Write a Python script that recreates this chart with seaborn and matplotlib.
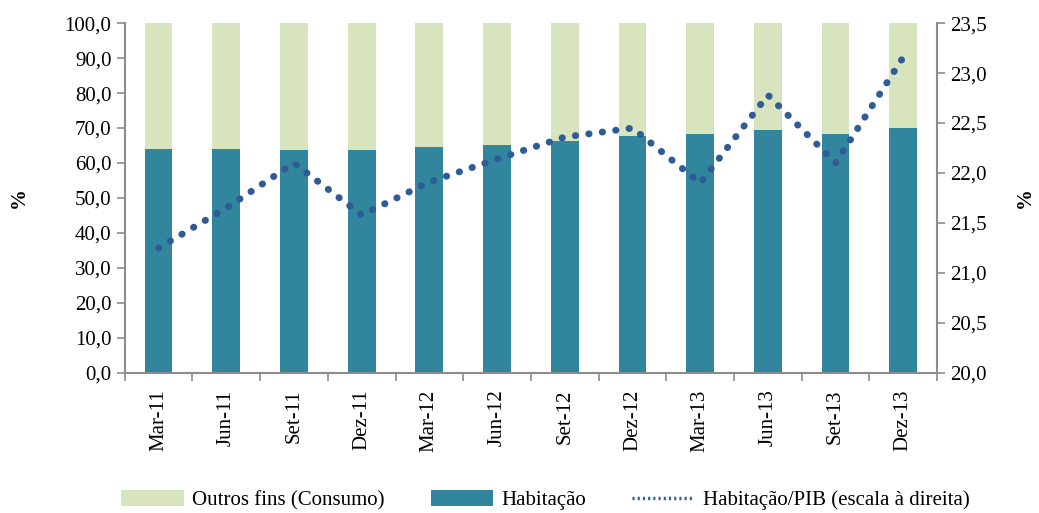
import numpy as np
import pandas as pd
import matplotlib
matplotlib.use("Agg")
import matplotlib.pyplot as plt
import seaborn as sns
from matplotlib.ticker import FuncFormatter, FixedLocator
from matplotlib.patches import Patch
from matplotlib.lines import Line2D

categories = ["Mar-11", "Jun-11", "Set-11", "Dez-11", "Mar-12", "Jun-12",
              "Set-12", "Dez-12", "Mar-13", "Jun-13", "Set-13", "Dez-13"]
habitacao = [64.0, 64.0, 63.8, 63.8, 64.6, 65.1, 66.3, 67.7, 68.3, 69.4, 68.4, 70.0]
outros = [100 - v for v in habitacao]
habitacao_pib = [21.25, 21.65, 22.10, 21.58, 21.91, 22.14, 22.36, 22.45, 21.90, 22.78, 22.10, 23.16]

sns.set_theme(style="white")
plt.rcParams['font.family'] = ['Liberation Serif', 'DejaVu Serif']
plt.rcParams['text.color'] = 'black'
plt.rcParams['xtick.color'] = 'black'
plt.rcParams['ytick.color'] = 'black'
plt.rcParams['axes.labelcolor'] = 'black'

c_hab = "#31859c"
c_out = "#d7e4bd"
c_line = "#2f5b97"
c_axis = "#8c8c8c"

df = pd.DataFrame({"cat": categories, "hab": habitacao,
                   "total": [h + o for h, o in zip(habitacao, outros)]})

fig = plt.figure(figsize=(10.39, 5.13), dpi=100)
ax = fig.add_axes([0.120, 0.273, 0.782, 0.682])

sns.barplot(data=df, x="cat", y="total", color=c_out, width=0.41, ax=ax,
            saturation=1, order=categories, linewidth=0)
sns.barplot(data=df, x="cat", y="hab", color=c_hab, width=0.41, ax=ax,
            saturation=1, order=categories, linewidth=0)

fmt = FuncFormatter(lambda v, p: f"{v:.1f}".replace(".", ","))
ax.set_ylim(0, 100)
ax.set_yticks(np.arange(0, 101, 10))
ax.yaxis.set_major_formatter(fmt)
ax.set_xlim(-0.5, len(categories) - 0.5)
ax.set_xlabel("")
ax.set_ylabel("%", fontsize=15, fontweight="bold", labelpad=26)
ax.tick_params(axis="x", which="major", length=0, labelsize=15, labelrotation=90, pad=12)
ax.xaxis.set_minor_locator(FixedLocator(np.arange(-0.5, len(categories), 1.0)))
ax.tick_params(axis="x", which="minor", length=6, color=c_axis, width=1.2, bottom=True, direction="out")
ax.tick_params(axis="y", length=6, color=c_axis, labelcolor="black", width=1.2, labelsize=15, left=True, direction="out")
ax.tick_params(axis="x", labelcolor="black")
for s in ["top", "right"]:
    ax.spines[s].set_visible(False)
for s in ["left", "bottom"]:
    ax.spines[s].set_color(c_axis)
    ax.spines[s].set_linewidth(1.5)

ax2 = ax.twinx()
sns.lineplot(x=np.arange(len(categories)), y=habitacao_pib, ax=ax2, color=c_line,
             linewidth=5, linestyle=(0, (0.05, 1.9)), dash_capstyle="round")
ax2.set_ylim(20, 23.5)
ax2.set_yticks(np.arange(20, 23.51, 0.5))
ax2.yaxis.set_major_formatter(fmt)
ax2.set_ylabel("%", fontsize=15, fontweight="bold", rotation=90, labelpad=20)
ax2.tick_params(axis="y", length=6, color=c_axis, labelcolor="black", width=1.2, labelsize=15, right=True, direction="out")
ax2.spines["top"].set_visible(False)
ax2.spines["left"].set_visible(False)
ax2.spines["bottom"].set_visible(False)
ax2.spines["right"].set_color(c_axis)
ax2.spines["right"].set_linewidth(1.5)
ax2.set_xlim(-0.5, len(categories) - 0.5)

handles = [Patch(facecolor=c_out, edgecolor="none", label="Outros fins (Consumo)"),
           Patch(facecolor=c_hab, edgecolor="none", label="Habitação"),
           Line2D([0], [0], color=c_line, linewidth=2.5, linestyle=(0, (0.6, 0.9)),
                  label="Habitação/PIB (escala à direita)")]
fig.legend(handles=handles, loc="center", bbox_to_anchor=(0.525, 0.025), ncol=3,
           frameon=False, fontsize=15, handlelength=3.0, handleheight=0.8,
           columnspacing=2.2, handletextpad=0.4)

fig.savefig("out.png", dpi=100)
